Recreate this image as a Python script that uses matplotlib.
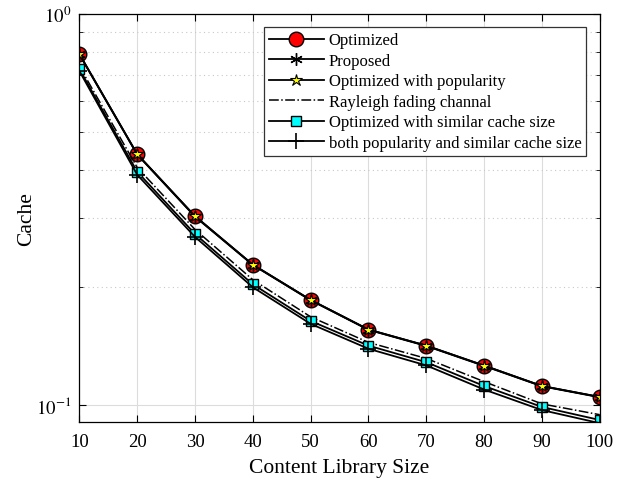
import numpy as np
import matplotlib
matplotlib.use("Agg")
from matplotlib import pyplot as plt
from matplotlib.ticker import LogLocator, NullFormatter, FixedLocator

plt.rcParams['font.family'] = ['Liberation Serif', 'DejaVu Serif']
plt.rcParams['mathtext.fontset'] = 'stix'

x = [10, 20, 30, 40, 50, 60, 70, 80, 90, 100]
optimized = [0.790, 0.438, 0.304, 0.2285, 0.1856, 0.1559, 0.1418, 0.1261, 0.1118, 0.1048]
proposed = [0.788, 0.437, 0.303, 0.228, 0.1852, 0.1556, 0.1415, 0.1258, 0.1116, 0.1046]
popularity = [0.790, 0.438, 0.304, 0.2285, 0.1856, 0.1559, 0.1418, 0.1261, 0.1118, 0.1048]
rayleigh = [0.735, 0.405, 0.281, 0.209, 0.168, 0.1445, 0.1315, 0.1147, 0.1006, 0.0944]
similar = [0.723, 0.395, 0.2737, 0.2035, 0.164, 0.1418, 0.1286, 0.1118, 0.0988, 0.0915]
both = [0.715, 0.388, 0.269, 0.200, 0.1612, 0.1392, 0.1262, 0.1095, 0.0970, 0.0898]

fig = plt.figure(figsize=(6.3, 4.85), dpi=100)
ax = fig.add_axes([0.126, 0.1285, 0.826, 0.8405])

lw = 1.3
ax.plot(x, optimized, '-', color='k', lw=lw, marker='o', ms=10.5,
        mfc='red', mec='k', mew=1.0, label='Optimized')
ax.plot(x, proposed, '-', color='k', lw=lw, marker=(6, 2, 0), ms=9,
        mec='k', mew=1.0, label='Proposed')
ax.plot(x, popularity, '-', color='k', lw=lw, marker='*', ms=9,
        mfc='yellow', mec='k', mew=0.8, label='Optimized with popularity')
ax.plot(x, rayleigh, '-.', color='k', lw=1.1, label='Rayleigh fading channal')
ax.plot(x, similar, '-', color='k', lw=lw, marker='s', ms=7.5,
        mfc='cyan', mec='k', mew=1.0, label='Optimized with similar cache size')
ax.plot(x, both, '-', color='k', lw=lw, marker='+', ms=12,
        mec='k', mew=1.2, label='both popularity and similar cache size')

ax.set_yscale('log')
ax.set_xlim(10, 100)
ax.set_ylim(0.0906, 1.0)
ax.set_xticks(x)
ax.yaxis.set_major_locator(FixedLocator([0.1, 1.0]))
ax.yaxis.set_minor_locator(LogLocator(base=10, subs=np.arange(2, 10) * 0.1 * 10, numticks=20))
ax.yaxis.set_minor_formatter(NullFormatter())
ax.set_yticklabels([r'$10^{-1}$', r'$10^{0}$'])

ax.grid(True, which='major', axis='both', color='#dcdcdc', lw=0.8, ls='-')
ax.grid(True, which='minor', axis='y', color='#c8c8c8', lw=0.8, ls=(0, (1, 3)))
ax.set_axisbelow(True)

ax.tick_params(which='both', direction='in', top=True, right=True, labelsize=13.5)
ax.tick_params(which='major', length=5)
ax.tick_params(which='minor', length=3)
ax.tick_params(axis='x', pad=8)
ax.tick_params(axis='y', pad=6)
for s in ax.spines.values():
    s.set_linewidth(0.9)

ax.set_xlabel('Content Library Size', fontsize=15.5, labelpad=6)
ax.set_ylabel('Cache', fontsize=15.5, labelpad=0)

leg = ax.legend(loc='upper right', bbox_to_anchor=(0.9745, 0.967), fontsize=12,
                handlelength=3.3, labelspacing=0.27, borderpad=0.3, borderaxespad=0,
                handletextpad=0.3, fancybox=False, framealpha=1, edgecolor='#333333')
leg.get_frame().set_linewidth(0.9)

fig.savefig('out.png', dpi=100)
